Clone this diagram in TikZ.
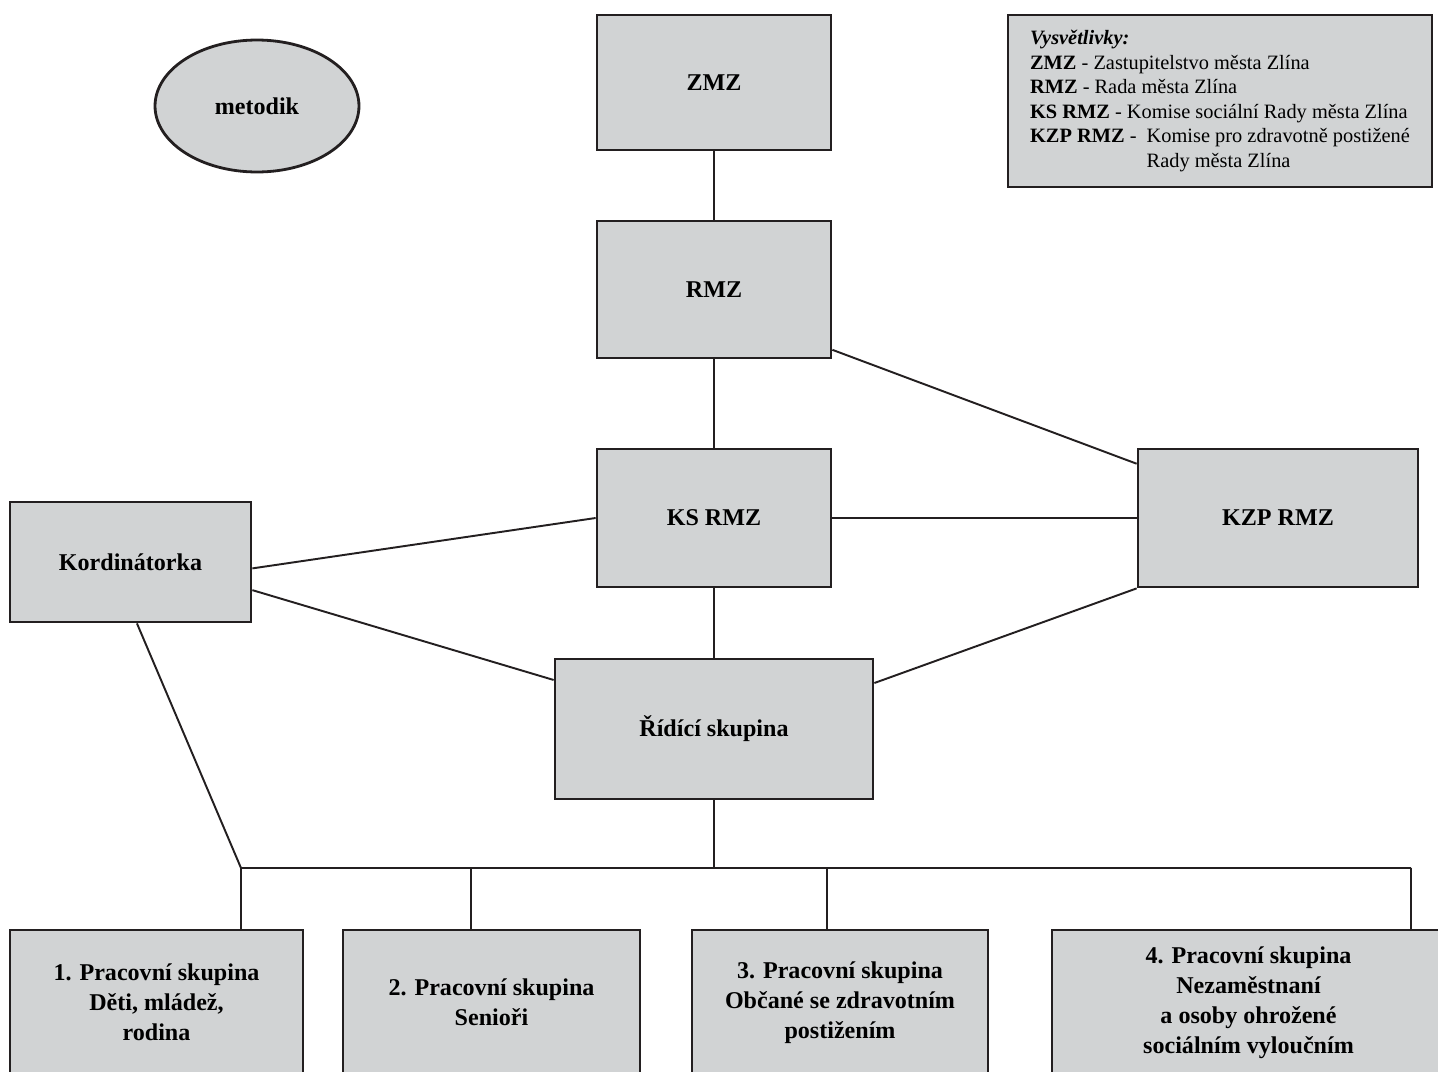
\documentclass[tikz,border=0pt]{standalone}
\usepackage{fontspec}
\setmainfont{Liberation Serif}
\usepackage{xcolor}
\usetikzlibrary{shapes.geometric,positioning}

\definecolor{boxgray}{HTML}{D1D3D4}
\definecolor{linegray}{HTML}{231F20}

\begin{document}
\begin{tikzpicture}[x=0.02cm, y=-0.02cm,
  unit/.style={rectangle, draw=linegray, fill=boxgray, line width=1.6pt, inner sep=0pt,
    align=center, font=\fontsize{13.7}{16}\selectfont\bfseries},
  group/.style={unit, minimum height=2.9cm, font=\fontsize{13.7}{17}\selectfont\bfseries},
  link/.style={line width=1.1pt, draw=linegray}
]
\useasboundingbox (0,0) rectangle (1438,1072);

% upper part
\node[unit, minimum width=4.68cm, minimum height=2.7cm] (zmz) at (714,82.5) {ZMZ};
\node[unit, minimum width=4.68cm, minimum height=2.74cm] (rmz) at (714,289.5) {RMZ};
\node[unit, minimum width=4.68cm, minimum height=2.76cm] (ks) at (714,518) {KS RMZ};
\node[unit, minimum width=5.6cm, minimum height=2.76cm] (kzp) at (1278,518) {KZP RMZ};
\node[unit, minimum width=4.82cm, minimum height=2.4cm] (kord) at (130.5,562) {Kordinátorka};
\node[unit, minimum width=6.36cm, minimum height=2.8cm] (ridici) at (714,729) {Řídící skupina};
\node[unit, ellipse, minimum width=4.08cm, minimum height=2.64cm] (metodik) at (257,106) {metodik};

% legend
\node[unit, font=\fontsize{11.6}{14}\selectfont, align=left,
  minimum width=8.48cm, minimum height=3.44cm] (legend) at (1220,101) {%
  \textbf{\textit{Vysvětlivky:}}\\
  \textbf{ZMZ} - Zastupitelstvo města Zlína\\
  \textbf{RMZ} - Rada města Zlína\\
  \textbf{KS RMZ} - Komise sociální Rady města Zlína\\
  \textbf{KZP RMZ} -\ \ Komise pro zdravotně postižené\\
  \hphantom{\textbf{KZP RMZ} -\ \ }Rady města Zlína};

% working groups
\node[group, minimum width=5.86cm] (ps1) at (156.5,1002.5) {1. Pracovní skupina\\Děti, mládež,\\rodina};
\node[group, minimum width=5.94cm] (ps2) at (491.5,1002.5) {2. Pracovní skupina\\Senioři};
\node[group, minimum width=5.92cm] (ps3) at (840,1002.5) {3. Pracovní skupina\\Občané se zdravotním\\postižením};
\node[group, minimum width=7.86cm] (ps4) at (1248.5,1002.5) {4. Pracovní skupina\\Nezaměstnaní\\a osoby ohrožené\\sociálním vyloučním};

% connections
\draw[link] (zmz) -- (rmz);
\draw[link] (rmz) -- (ks);
\draw[link] (ks) -- (ridici);
\draw[link] (ks) -- (kzp);
\draw[link] (rmz.-27) -- (kzp.159);
\draw[link] (kord.-3) -- (ks.west);
\draw[link] (kord.-13) -- (ridici.163);
\draw[link] (ridici.16) -- (kzp.south west);

% bus to working groups
\coordinate (busl) at (241,868);
\coordinate (busr) at (1411,868);
\draw[link] (kord.-84) -- (busl) -- (busr);
\draw[link] (ridici) -- (ridici |- busl);
\foreach \g/\x in {ps1/241, ps2/471, ps3/827, ps4/1411} {
  \coordinate (drop) at (\x,868);
  \draw[link] (drop) -- (drop |- \g.north);
}
\end{tikzpicture}
\end{document}
